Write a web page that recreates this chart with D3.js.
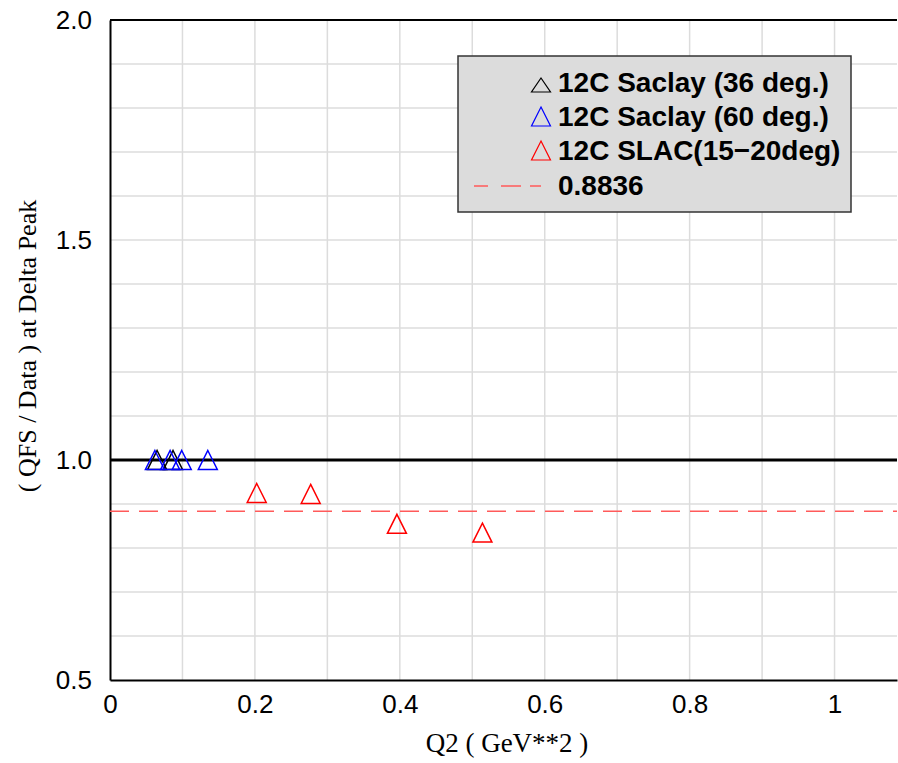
<!DOCTYPE html>
<html>
<head>
<meta charset="utf-8">
<script src="https://cdn.jsdelivr.net/npm/d3@7"></script>
<style>
  body { margin: 0; background: #fff; }
  svg { display: block; }
</style>
</head>
<body>
<div id="chart"></div>
<script>
// Datos
const saclay36Q2 = [0.065, 0.087];
const saclay36Ratio = [1.0, 1.0];
const saclay60Q2 = [0.062, 0.083, 0.099, 0.135];
const saclay60Ratio = [1.0, 1.0, 1.0, 1.0];
const slacQ2 = [0.2025, 0.277, 0.396, 0.514];
const slacRatio = [0.925, 0.923, 0.855, 0.835];
const fitValue = 0.8836;
const xTicks = [0, 0.2, 0.4, 0.6, 0.8, 1];
const yTicks = [0.5, 1.0, 1.5, 2.0];
const legendLabels = ["12C Saclay (36 deg.)", "12C Saclay (60 deg.)", "12C SLAC(15\u221220deg)", "0.8836"];

// Dimensiones
const W = 898, H = 763;
const margin = { top: 20, right: 1, bottom: 83, left: 110 };
const width = W - margin.left - margin.right;
const height = H - margin.top - margin.bottom;

const svg = d3.select("#chart").append("svg")
    .attr("width", W)
    .attr("height", H);

const g = svg.append("g")
    .attr("transform", `translate(${margin.left},${margin.top})`);

// Escalas
const x = d3.scaleLinear().domain([0, 1.0862]).range([0, width]);
const y = d3.scaleLinear().domain([0.5, 2.0]).range([height, 0]);

// Rejilla
const gridX = d3.range(0.1, 1.01, 0.1);
const gridY = d3.range(0.6, 1.96, 0.1);
g.append("g")
    .selectAll("line").data(gridX).join("line")
    .attr("x1", d => x(d)).attr("x2", d => x(d))
    .attr("y1", 0).attr("y2", height)
    .attr("stroke", "#dcdcdc").attr("stroke-width", 1.5);
g.append("g")
    .selectAll("line").data(gridY).join("line")
    .attr("x1", 0).attr("x2", width)
    .attr("y1", d => y(d)).attr("y2", d => y(d))
    .attr("stroke", "#dcdcdc").attr("stroke-width", 1.5);

// Ejes
const xAxis = g.append("g")
    .attr("transform", `translate(0,${height})`)
    .call(d3.axisBottom(x).tickValues(xTicks).tickSize(0).tickPadding(15).tickFormat(d3.format("~g")));
const yAxis = g.append("g")
    .call(d3.axisLeft(y).tickValues(yTicks).tickSize(0).tickPadding(18).tickFormat(d3.format(".1f")));

[xAxis, yAxis].forEach(a => {
    a.select(".domain").attr("stroke", "#000").attr("stroke-width", 2);
    a.selectAll("text")
        .attr("font-family", "Liberation Sans, Arial, sans-serif")
        .attr("font-size", 26)
        .attr("fill", "#000");
});

// Borde superior
g.append("line")
    .attr("x1", 0).attr("x2", width)
    .attr("y1", 0).attr("y2", 0)
    .attr("stroke", "#000").attr("stroke-width", 2);

// Línea en 1.0
g.append("line")
    .attr("x1", 0).attr("x2", width)
    .attr("y1", y(1.0)).attr("y2", y(1.0))
    .attr("stroke", "#000").attr("stroke-width", 3);

// Línea del ajuste
g.append("line")
    .attr("x1", 0).attr("x2", width)
    .attr("y1", y(fitValue)).attr("y2", y(fitValue))
    .attr("stroke", "#ff5a5a").attr("stroke-width", 1.5)
    .attr("stroke-dasharray", "19,10");

// Triángulos abiertos
const tri = (w, h) => `M0,${-h / 2}L${w / 2},${h / 2}L${-w / 2},${h / 2}Z`;

const series = [
    { q2: saclay36Q2, r: saclay36Ratio, color: "#000" },
    { q2: saclay60Q2, r: saclay60Ratio, color: "#0000ff" },
    { q2: slacQ2, r: slacRatio, color: "#ff0000" }
];

series.forEach(s => {
    g.append("g")
        .selectAll("path")
        .data(s.q2.map((q, i) => [q, s.r[i]]))
        .join("path")
        .attr("d", tri(19, 19))
        .attr("transform", d => `translate(${x(d[0])},${y(d[1])})`)
        .attr("fill", "none")
        .attr("stroke", s.color)
        .attr("stroke-width", 1.5);
});

// Títulos de los ejes
svg.append("text")
    .attr("x", 507).attr("y", 752)
    .attr("text-anchor", "middle")
    .attr("font-family", "Liberation Serif, Times New Roman, serif")
    .attr("font-size", 27)
    .text("Q2 ( GeV**2 )");

svg.append("text")
    .attr("transform", "translate(36,346) rotate(-90)")
    .attr("text-anchor", "middle")
    .attr("font-family", "Liberation Serif, Times New Roman, serif")
    .attr("font-size", 26)
    .text("( QFS / Data ) at Delta Peak");

// Leyenda
const legend = svg.append("g");
legend.append("rect")
    .attr("x", 458).attr("y", 56)
    .attr("width", 393).attr("height", 156)
    .attr("fill", "#dcdcdc")
    .attr("stroke", "#333").attr("stroke-width", 1.5);

const rowBase = [92, 126, 160, 195];
const legendColors = ["#000", "#0000ff", "#ff0000"];
legendLabels.forEach((lab, i) => {
    if (i < 3) {
        legend.append("path")
            .attr("d", tri(19, i === 0 ? 14 : 19))
            .attr("transform", `translate(541,${rowBase[i] - (i === 0 ? 7 : 9.5)})`)
            .attr("fill", "none")
            .attr("stroke", legendColors[i])
            .attr("stroke-width", 1.2);
    } else {
        legend.append("line")
            .attr("x1", 474).attr("x2", 541)
            .attr("y1", rowBase[i] - 9).attr("y2", rowBase[i] - 9)
            .attr("stroke", "#ff5a5a").attr("stroke-width", 1.5)
            .attr("stroke-dasharray", "14,13,20,9");
    }
    legend.append("text")
        .attr("x", 558).attr("y", rowBase[i])
        .attr("font-family", "Liberation Sans, Arial, sans-serif")
        .attr("font-weight", "bold")
        .attr("font-size", 28)
        .text(lab);
});
</script>
</body>
</html>
